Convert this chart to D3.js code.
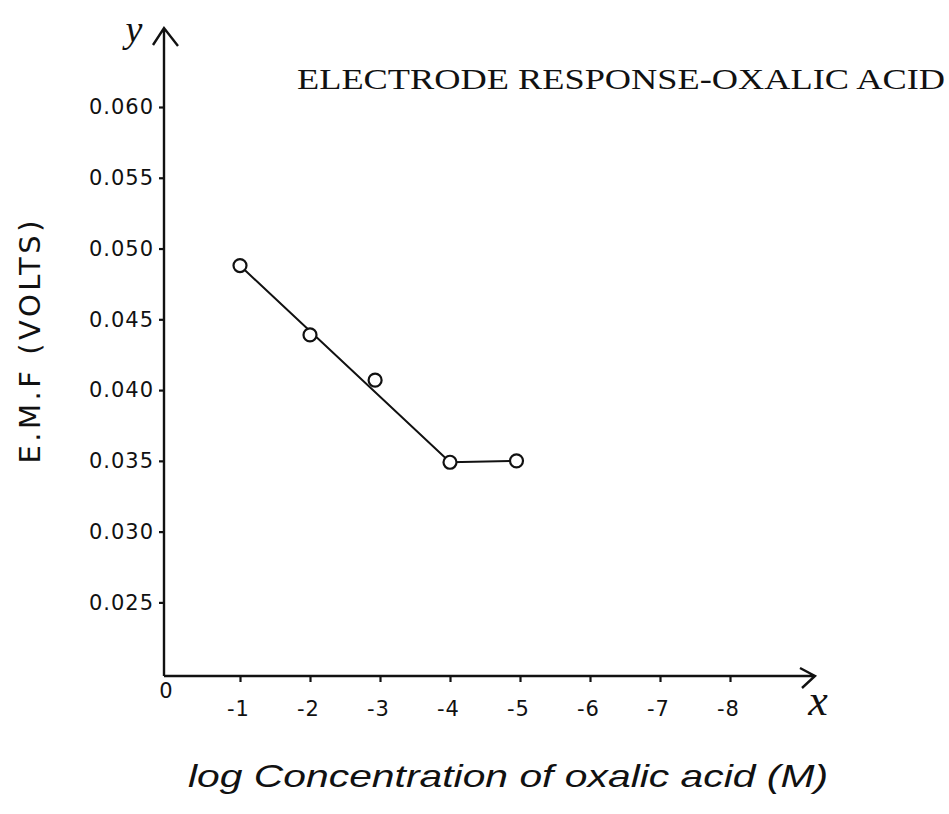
<!DOCTYPE html>
<html lang="en">
<head>
    <meta charset="UTF-8">
    <title>Electrode Response - Oxalic Acid</title>
    <style>
        body{
            margin: 0;
            background-color: #ffffff;
        }
        svg{
            display: block;
        }
        .axis text{
            font-family: "DejaVu Sans", sans-serif;
            font-size: 21px;
            letter-spacing: 1px;
            fill: #111;
        }
        .axis line{
            stroke: #111;
            stroke-width: 2.2px;
        }
        .axisLine{
            stroke: #111;
            stroke-width: 2.4px;
            fill: none;
        }
        .fitLine{
            stroke: #111;
            stroke-width: 2px;
            fill: none;
        }
        .point{
            stroke: #111;
            stroke-width: 2.2px;
            fill: #fff;
        }
        .title{
            font-family: "Liberation Serif", serif;
            font-size: 30px;
            fill: #111;
        }
        .hand{
            font-family: "DejaVu Sans", sans-serif;
            fill: #111;
        }
        .xLabel{
            font-family: "Liberation Sans", sans-serif;
            font-style: italic;
            font-size: 32px;
            fill: #111;
        }
        .letter{
            font-family: "Liberation Serif", serif;
            font-style: italic;
            fill: #111;
        }
    </style>
    <script src="https://cdn.jsdelivr.net/npm/d3@7"></script>
</head>
<body>
<script>

    // readings from the picture
    const logConc = [-1, -2, -2.93, -4, -4.95];
    const emf = [0.0488, 0.0439, 0.0407, 0.0349, 0.0350];

    // the drawn line goes through the 1st, 4th and 5th readings
    const lineConc = [-1, -4, -4.95];
    const lineEmf = [0.0488, 0.0349, 0.0350];

    const yTicks = [0.025, 0.030, 0.035, 0.040, 0.045, 0.050, 0.055, 0.060];
    const yTickLabels = ["0.025", "0.030", "0.035", "0.040", "0.045", "0.050", "0.055", "0.060"];
    const xTicks = [-1, -2, -3, -4, -5, -6, -7, -8];
    const xTickLabels = ["-1", "-2", "-3", "-4", "-5", "-6", "-7", "-8"];

    const width = 949;
    const height = 814;
    const margins = {
        top: 28,
        bottom: 138,
        left: 164,
        right: 134
    }

    const svg = d3.select("body").append("svg")
        .attr("width", width)
        .attr("height", height)
        .attr("viewBox", `0 0 ${width} ${height}`);

    const xScale = d3.scaleLinear()
        .domain([0, -8])
        .range([170, 730]);
    const yScale = d3.scaleLinear()
        .domain([0.0198, 0.060])
        .range([height - margins.bottom, 107]);

    const x0 = margins.left;
    const y0 = height - margins.bottom;
    const xEnd = width - margins.right;
    const yEnd = margins.top;

    // axis lines with open arrow heads
    svg.append("path")
        .attr("class", "axisLine")
        .attr("d", `M${x0},${y0}L${x0},${yEnd}M${x0 - 11},${yEnd + 17}L${x0},${yEnd}L${x0 + 14},${yEnd + 18}`);
    svg.append("path")
        .attr("class", "axisLine")
        .attr("d", `M${x0},${y0}L${xEnd},${y0}M${xEnd - 15},${y0 - 8}L${xEnd},${y0}L${xEnd - 13},${y0 + 12}`);

    const yAxis = d3.axisLeft(yScale)
        .tickValues(yTicks)
        .tickSize(5)
        .tickPadding(5)
        .tickFormat((d, i) => yTickLabels[i]);
    svg.append("g")
        .attr("class", "axis")
        .attr("transform", `translate(${x0},0)`)
        .call(yAxis)
        .call(g => g.select(".domain").remove());

    const xAxis = d3.axisBottom(xScale)
        .tickValues(xTicks)
        .tickSize(6)
        .tickPadding(19)
        .tickFormat((d, i) => xTickLabels[i]);
    svg.append("g")
        .attr("class", "axis")
        .attr("transform", `translate(0,${y0})`)
        .call(xAxis)
        .call(g => g.select(".domain").remove())
        .selectAll("text")
        .attr("dx", "-2px");

    // origin label
    svg.append("text")
        .attr("class", "hand")
        .attr("x", xScale(0) - 4)
        .attr("y", y0 + 22)
        .attr("text-anchor", "middle")
        .attr("font-size", "21px")
        .text("0");

    // line and points
    const lineGen = d3.line()
        .x(d => xScale(d[0]))
        .y(d => yScale(d[1]));
    svg.append("path")
        .attr("class", "fitLine")
        .attr("d", lineGen(d3.zip(lineConc, lineEmf)));

    svg.append("g")
        .selectAll("circle")
        .data(d3.zip(logConc, emf))
        .enter()
        .append("circle")
        .attr("class", "point")
        .attr("cx", d => xScale(d[0]))
        .attr("cy", d => yScale(d[1]))
        .attr("r", 6.5);

    // texts
    svg.append("text")
        .attr("class", "title")
        .attr("x", 297)
        .attr("y", 89)
        .attr("textLength", 648)
        .attr("lengthAdjust", "spacingAndGlyphs")
        .text("ELECTRODE RESPONSE-OXALIC ACID");

    svg.append("text")
        .attr("class", "hand")
        .attr("transform", "translate(40,342) rotate(-90)")
        .attr("text-anchor", "middle")
        .attr("font-size", "29px")
        .attr("textLength", 243)
        .attr("lengthAdjust", "spacing")
        .text("E.M.F (VOLTS)");

    svg.append("text")
        .attr("class", "xLabel")
        .attr("x", 188)
        .attr("y", 787)
        .attr("textLength", 640)
        .attr("lengthAdjust", "spacingAndGlyphs")
        .text("log Concentration of oxalic acid (M)");

    svg.append("text")
        .attr("class", "letter")
        .attr("x", 134)
        .attr("y", 42)
        .attr("text-anchor", "middle")
        .attr("font-size", "38px")
        .text("y");

    svg.append("text")
        .attr("class", "letter")
        .attr("x", 818)
        .attr("y", 715)
        .attr("text-anchor", "middle")
        .attr("font-size", "44px")
        .text("x");

</script>
</body>
</html>
